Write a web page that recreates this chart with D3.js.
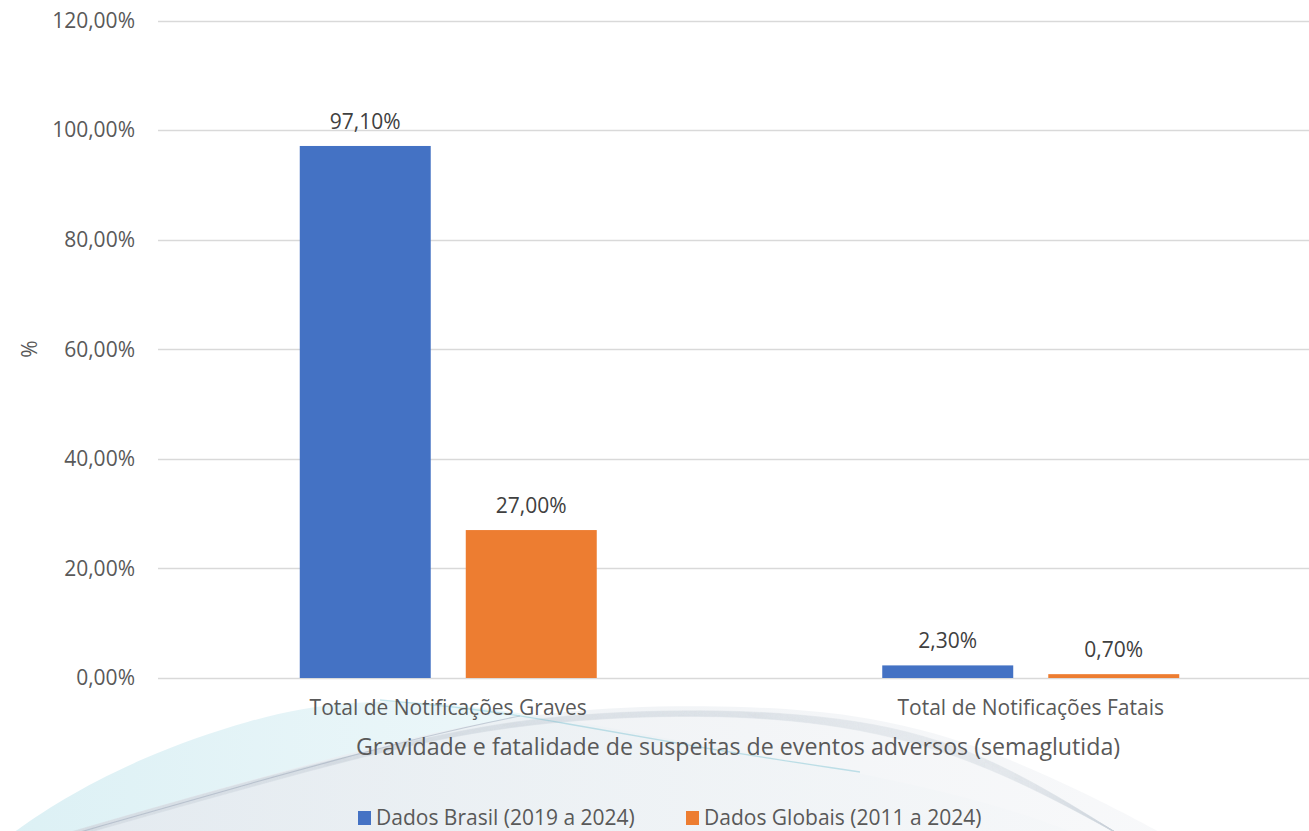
<!DOCTYPE html>
<html><head><meta charset="utf-8">
<script src="https://cdn.jsdelivr.net/npm/d3@7"></script>
<style>
html,body{margin:0;padding:0;background:#fff;}
svg{display:block;font-family:"Open Sans",Lato,sans-serif;}
</style></head>
<body>
<svg id="chart" width="1309" height="831"></svg>
<script>
const categories = ["Total de Notificações Graves", "Total de Notificações Fatais"];
const seriesNames = ["Dados Brasil (2019 a 2024)", "Dados Globais (2011 a 2024)"];
const brasil = [97.1, 2.3];
const globais = [27.0, 0.7];
const dataLabels = [["97,10%", "2,30%"], ["27,00%", "0,70%"]];
const yTicks = [0, 20, 40, 60, 80, 100, 120];
const yTickLabels = ["0,00%", "20,00%", "40,00%", "60,00%", "80,00%", "100,00%", "120,00%"];
const colors = ["#4472C4", "#ED7D31"];
const yTitle = "%";
const xTitle = "Gravidade e fatalidade de suspeitas de eventos adversos (semaglutida)";

(function () {
const svg = d3.select("#chart");
const W = 1309, H = 831;
const pLeft = 157, pRight = 1322, pTop = 20.5, pBottom = 678;
const textColor = "#595959";
const fs = 21;

// decorative background swoosh (watermark)
const defs = svg.append("defs");
const g1 = defs.append("linearGradient").attr("id", "gA").attr("x1", 0).attr("y1", 0).attr("x2", 1).attr("y2", 0);
g1.append("stop").attr("offset", 0).attr("stop-color", "#d6eef3");
g1.append("stop").attr("offset", 0.45).attr("stop-color", "#e8f5f8");
g1.append("stop").attr("offset", 1).attr("stop-color", "#f5f9fa");
const g2 = defs.append("linearGradient").attr("id", "gB").attr("x1", 0).attr("y1", 0).attr("x2", 1).attr("y2", 0);
g2.append("stop").attr("offset", 0).attr("stop-color", "#e4e8ee");
g2.append("stop").attr("offset", 0.5).attr("stop-color", "#eef1f4");
g2.append("stop").attr("offset", 1).attr("stop-color", "#f6f7f9");
const curve = d3.line().curve(d3.curveBasis);
const deco = svg.append("g");
deco.append("path")
  .attr("d", curve([[10, 835], [60, 800], [140, 758], [250, 718], [350, 700], [440, 702], [560, 718], [700, 745], [860, 772], [1000, 805], [1080, 835]]) + "Z")
  .attr("fill", "url(#gA)").attr("opacity", 0.85);
deco.append("path")
  .attr("d", curve([[60, 835], [180, 800], [330, 758], [450, 728], [560, 710], [700, 704], [860, 712], [980, 745], [1090, 795], [1165, 835]]) + "Z")
  .attr("fill", "url(#gB)").attr("opacity", 0.8);
const dl = deco.append("g").attr("fill", "none");
for (let i = 0; i < 18; i++) {
  const t = i / 17;
  dl.append("path")
    .attr("d", curve([[60 + t * 20, 835], [250 + t * 10, 780 + t * 4], [440, 733 + t * 3], [560 + t * 20, 714 + t * 4], [720 + t * 20, 708 + t * 6], [880, 720 + t * 10], [1000, 760 + t * 10], [1120, 835]]))
    .attr("stroke", "#cdd2dc").attr("stroke-width", 0.5).attr("opacity", 0.5);
}
dl.append("path")
  .attr("d", curve([[70, 835], [250, 783], [440, 732], [520, 716]]))
  .attr("stroke", "#9aa6b8").attr("stroke-width", 1.1).attr("opacity", 0.5);
dl.append("path")
  .attr("d", curve([[380, 700], [470, 708], [560, 722], [700, 748], [860, 772]]))
  .attr("stroke", "#6cbccc").attr("stroke-width", 1.3).attr("opacity", 0.4);

const y = d3.scaleLinear().domain([0, 120]).range([pBottom, pTop]);
const x0 = d3.scaleBand().domain(categories).range([pLeft, pRight]).padding(0);
const groupW = 297;
const x1 = d3.scaleBand().domain(seriesNames).range([0, groupW]).paddingInner(0.211).paddingOuter(0);

// gridlines
svg.append("g").selectAll("line").data(yTicks).join("line")
  .attr("x1", 158).attr("x2", W)
  .attr("y1", d => Math.round(y(d)) + 0.5).attr("y2", d => Math.round(y(d)) + 0.5)
  .attr("stroke", "#d9d9d9").attr("stroke-width", 1.3);

// y tick labels
svg.append("g").selectAll("text").data(yTicks).join("text")
  .attr("x", 135).attr("y", d => y(d)).attr("dy", "0.35em")
  .attr("text-anchor", "end").attr("fill", textColor).attr("font-size", fs)
  .text((d, i) => yTickLabels[i]);

// bars
const series = [brasil, globais];
series.forEach((vals, si) => {
  const g = svg.append("g");
  g.selectAll("rect").data(vals).join("rect")
    .attr("x", (d, i) => x0(categories[i]) + x0.bandwidth() / 2 - groupW / 2 + x1(seriesNames[si]))
    .attr("y", d => y(d))
    .attr("width", x1.bandwidth())
    .attr("height", d => y(0) - y(d))
    .attr("fill", colors[si]);
  g.selectAll("text").data(vals).join("text")
    .attr("x", (d, i) => x0(categories[i]) + x0.bandwidth() / 2 - groupW / 2 + x1(seriesNames[si]) + x1.bandwidth() / 2)
    .attr("y", d => y(d) - 17)
    .attr("text-anchor", "middle").attr("fill", "#404040").attr("font-size", fs)
    .text((d, i) => dataLabels[si][i]);
});

// category labels
svg.append("g").selectAll("text").data(categories).join("text")
  .attr("x", d => x0(d) + x0.bandwidth() / 2).attr("y", 715)
  .attr("text-anchor", "middle").attr("fill", textColor).attr("font-size", fs)
  .text(d => d);

// axis titles
svg.append("text").attr("x", 738).attr("y", 755).attr("text-anchor", "middle")
  .attr("fill", textColor).attr("font-size", 23.2).text(xTitle);
svg.append("text").attr("transform", "translate(37,349) rotate(-90)").attr("text-anchor", "middle")
  .attr("fill", textColor).attr("font-size", fs).text(yTitle);

// legend
const legendX = [358, 686];
const lg = svg.append("g");
seriesNames.forEach((n, i) => {
  lg.append("rect").attr("x", legendX[i]).attr("y", 811).attr("width", 13).attr("height", 14).attr("fill", colors[i]);
  lg.append("text").attr("x", legendX[i] + 18).attr("y", 825).attr("fill", textColor).attr("font-size", fs).text(n);
});
})();
</script>
</body></html>
